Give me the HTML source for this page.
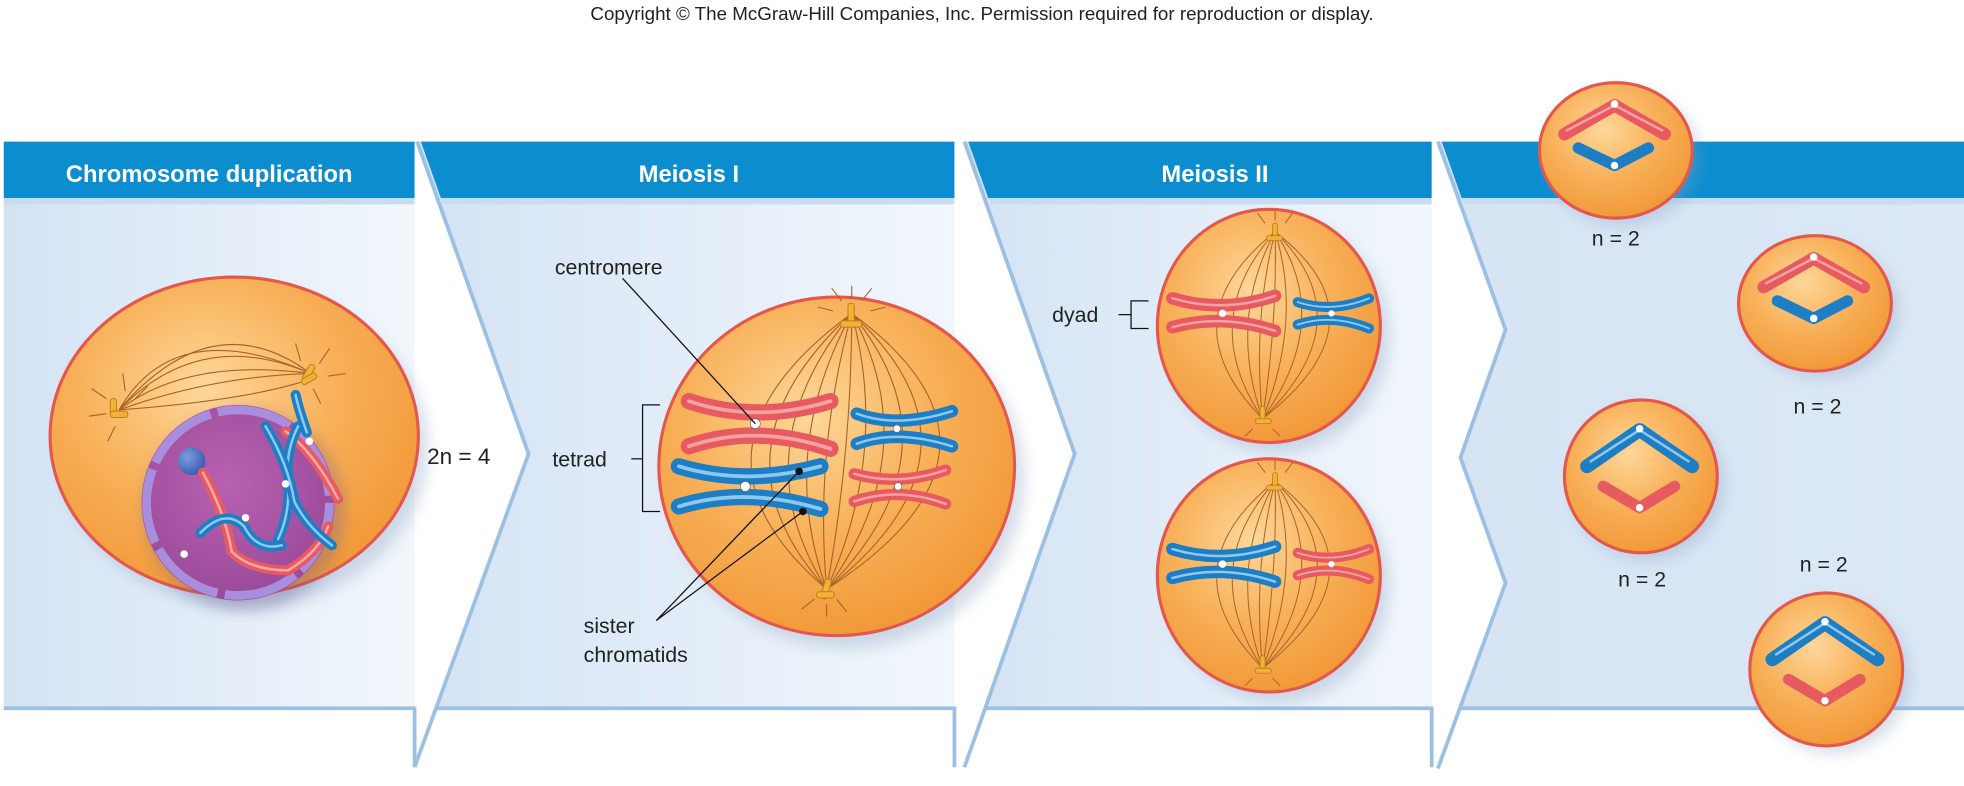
<!DOCTYPE html>
<html><head><meta charset="utf-8"><style>
html,body{margin:0;padding:0;background:#fff;}
svg{display:block;}
text{font-family:"Liberation Sans",sans-serif;}
</style></head><body>
<svg width="1964" height="786" viewBox="0 0 1568 627" preserveAspectRatio="none" xmlns="http://www.w3.org/2000/svg">
<defs>
<linearGradient id="pbg" x1="0" y1="0" x2="1" y2="0">
<stop offset="0" stop-color="#d3e3f4"/><stop offset="0.6" stop-color="#e6eff9"/><stop offset="1" stop-color="#f2f7fc"/>
</linearGradient>
<linearGradient id="pbg4" x1="0" y1="0" x2="1" y2="0">
<stop offset="0" stop-color="#d5e4f4"/><stop offset="1" stop-color="#dce8f5"/>
</linearGradient>
<radialGradient id="cell" cx="0.42" cy="0.35" r="0.65">
<stop offset="0" stop-color="#fdd79a"/><stop offset="0.55" stop-color="#f8b058"/><stop offset="1" stop-color="#f29a3a"/>
</radialGradient>
<radialGradient id="nuc" cx="0.45" cy="0.4" r="0.6">
<stop offset="0" stop-color="#b862b0"/><stop offset="1" stop-color="#9a4a9a"/>
</radialGradient>
<radialGradient id="nucl" cx="0.35" cy="0.35" r="0.7">
<stop offset="0" stop-color="#7b9de0"/><stop offset="1" stop-color="#3b5bb0"/>
</radialGradient>
<filter id="sh" x="-20%" y="-20%" width="140%" height="140%"><feGaussianBlur stdDeviation="6"/></filter>
</defs>

<text x="784" y="16" font-size="15" text-anchor="middle" fill="#222">Copyright © The McGraw-Hill Companies, Inc. Permission required for reproduction or display.</text>

<!-- panels -->
<rect x="3" y="113" width="328" height="452" fill="url(#pbg)"/>
<polygon points="333,113 762,113 762,565 348,565 422,362" fill="url(#pbg)"/>
<polygon points="770,113 1143,113 1143,565 787,565 858,362" fill="url(#pbg)"/>
<polygon points="1148,113 1568,113 1568,565 1165,565 1202,465 1166,365 1202,263" fill="url(#pbg4)"/>
<!-- headers -->
<rect x="3" y="113" width="328" height="45" fill="#0b8dd0"/>
<polygon points="336,113 762,113 762,158 352,158" fill="#0b8dd0"/>
<polygon points="773,113 1143,113 1143,158 789,158" fill="#0b8dd0"/>
<polygon points="1151,113 1568,113 1568,158 1167,158" fill="#0b8dd0"/>
<rect x="3" y="158" width="328" height="5" fill="#c9dcf0"/>
<polygon points="352,158 762,158 762,163 354,163" fill="#c9dcf0"/>
<polygon points="789,158 1143,158 1143,163 791,163" fill="#c9dcf0"/>
<polygon points="1167,158 1568,158 1568,163 1169,163" fill="#c9dcf0"/>
<!-- bottom lines & chevron lines -->
<g stroke="#9cc0e4" stroke-width="3" fill="none">
<polyline points="3,565 331,565 331,612"/>
<polyline points="348,565 762,565 762,612"/>
<polyline points="787,565 1143,565 1143,612"/>
<polyline points="1165,565 1568,565"/>
<polyline points="333,113 422,362 331,612"/>
<polyline points="770,113 858,362 770,612"/>
<polyline points="1148,113 1202,263 1166,365 1202,465 1148,613"/>
</g>
<text x="167" y="145" font-size="19" font-weight="bold" fill="#fff" text-anchor="middle">Chromosome duplication</text>
<text x="550" y="145" font-size="19" font-weight="bold" fill="#fff" text-anchor="middle">Meiosis I</text>
<text x="970" y="145" font-size="19" font-weight="bold" fill="#fff" text-anchor="middle">Meiosis II</text>

<!-- ===== Cell 1 ===== -->
<ellipse cx="195" cy="358" rx="147" ry="127" fill="#8aa0c0" opacity="0.35" filter="url(#sh)"/>
<ellipse cx="187" cy="348" rx="147" ry="127" fill="url(#cell)" stroke="#e4574c" stroke-width="2.5"/>
<g stroke="#a8642a" stroke-width="0.9" fill="none">
<path d="M95,327 Q160,260 248,298"/><path d="M95,327 Q170,240 248,298"/><path d="M95,327 Q150,285 248,298"/>
<path d="M95,327 Q170,300 248,298"/><path d="M95,327 Q140,250 248,298"/><path d="M95,327 Q190,320 240,305"/>
<path d="M85,318 l-12,-8 M85,330 l-14,2 M92,340 l-6,12 M100,312 l-2,-14 M108,318 l10,-10 M255,290 l8,-12 M262,300 l14,-2 M250,310 l6,12 M240,288 l-4,-14"/>
</g>
<g fill="#f1b238" stroke="#c47a18" stroke-width="0.8">
<rect x="88" y="318" width="5" height="14" rx="2"/><rect x="88" y="328" width="14" height="5" rx="2"/>
<rect x="244" y="290" width="5" height="14" rx="2" transform="rotate(30 246 297)"/><rect x="240" y="300" width="13" height="5" rx="2" transform="rotate(-30 246 302)"/>
</g>
<!-- nucleus -->
<ellipse cx="195" cy="407" rx="80" ry="80" fill="#6a5a90" opacity="0.35" filter="url(#sh)"/>
<ellipse cx="190" cy="401" rx="77" ry="78" fill="url(#nuc)"/>
<ellipse cx="190" cy="401" rx="73" ry="74" fill="none" stroke="#a98ee0" stroke-width="7" stroke-dasharray="60 6"/>
<circle cx="153" cy="368" r="11" fill="url(#nucl)"/>
<g fill="none" stroke-linecap="round">
<path d="M228,344 Q250,360 270,398" stroke="#e65a60" stroke-width="8"/><path d="M228,344 Q250,360 270,398" stroke="#f8a8a8" stroke-width="2"/>
<path d="M162,377 Q180,410 185,440 Q200,455 230,455 Q255,440 262,420" stroke="#e65a60" stroke-width="8"/>
<path d="M162,377 Q180,410 185,440 Q200,455 230,455 Q255,440 262,420" stroke="#f8a8a8" stroke-width="2"/>
<path d="M245,345 Q238,325 236,315 M238,340 Q228,360 230,380 Q232,410 222,430" stroke="#1e7ec4" stroke-width="8"/>
<path d="M245,345 Q238,325 236,315 M238,340 Q228,360 230,380 Q232,410 222,430" stroke="#8cc8f0" stroke-width="2"/>
<path d="M212,340 Q230,370 235,400 Q245,420 265,435" stroke="#1e7ec4" stroke-width="8"/>
<path d="M212,340 Q230,370 235,400 Q245,420 265,435" stroke="#8cc8f0" stroke-width="2"/>
<path d="M160,425 Q180,405 195,420 Q205,440 225,435" stroke="#1e7ec4" stroke-width="8"/>
<path d="M160,425 Q180,405 195,420 Q205,440 225,435" stroke="#8cc8f0" stroke-width="2"/>
</g>
<g fill="#fff"><circle cx="228" cy="386" r="3"/><circle cx="196" cy="413" r="3"/><circle cx="247" cy="352" r="3"/><circle cx="147" cy="442" r="3"/></g>

<text x="341" y="370" font-size="18" fill="#222">2n = 4</text>

<!-- ===== Cell 2 Meiosis I ===== -->
<ellipse cx="676" cy="382" rx="142" ry="135" fill="#8aa0c0" opacity="0.35" filter="url(#sh)"/>
<ellipse cx="668" cy="372" rx="142" ry="135" fill="url(#cell)" stroke="#e4574c" stroke-width="2.5"/>
<g stroke="#a8642a" stroke-width="0.9" fill="none">
<path d="M680,250 Q560,360 660,470"/><path d="M680,250 Q590,360 660,470"/><path d="M680,250 Q620,360 660,470"/>
<path d="M680,250 Q650,360 660,470"/><path d="M680,250 Q680,360 660,470"/><path d="M680,250 Q710,360 660,470"/>
<path d="M680,250 Q740,360 660,470"/><path d="M680,250 Q770,360 660,470"/><path d="M680,250 Q800,360 660,470"/>
<path d="M680,250 Q530,360 660,470"/><path d="M680,250 Q830,360 660,470"/>
<path d="M672,240 l-8,-10 M688,240 l8,-10 M680,238 l0,-10 M695,248 l12,-3 M665,248 l-12,-3 M650,478 l-10,8 M668,478 l8,10 M660,482 l0,10"/>
</g>
<g fill="#f1b238" stroke="#c47a18" stroke-width="0.8">
<rect x="677" y="242" width="5" height="16" rx="2"/><rect x="671" y="256" width="17" height="5" rx="2"/>
<rect x="657" y="462" width="5" height="16" rx="2" transform="rotate(15 660 470)"/><rect x="652" y="472" width="14" height="5" rx="2"/>
</g>
<g fill="none" stroke-linecap="round">
<path d="M550,320 Q603,338 663,320 M550,356 Q603,338 663,358" stroke="#e65a60" stroke-width="13"/>
<path d="M550,320 Q603,338 663,320 M550,356 Q603,338 663,358" stroke="#f6a2a2" stroke-width="3"/>
<path d="M684,330 Q716,342 760,328 M684,354 Q716,342 760,356" stroke="#1e7ec4" stroke-width="10"/>
<path d="M684,330 Q716,342 760,328 M684,354 Q716,342 760,356" stroke="#8cc8f0" stroke-width="2"/>
<path d="M542,372 Q595,388 655,372 M542,404 Q595,388 655,406" stroke="#1e7ec4" stroke-width="13"/>
<path d="M542,372 Q595,388 655,372 M542,404 Q595,388 655,406" stroke="#8cc8f0" stroke-width="3"/>
<path d="M682,378 Q717,388 755,375 M682,400 Q717,388 755,402" stroke="#e65a60" stroke-width="9"/>
<path d="M682,378 Q717,388 755,375 M682,400 Q717,388 755,402" stroke="#f6a2a2" stroke-width="2"/>
</g>
<g fill="#fff" stroke="#666" stroke-width="0.5"><circle cx="603" cy="338" r="4"/><circle cx="716" cy="342" r="3"/><circle cx="595" cy="388" r="4"/><circle cx="717" cy="388" r="3"/></g>
<g fill="#111"><circle cx="638" cy="376" r="3"/><circle cx="641" cy="408" r="3"/></g>
<g stroke="#111" stroke-width="1" fill="none">
<line x1="497" y1="222" x2="603" y2="338"/>
<line x1="524" y1="495" x2="638" y2="376"/><line x1="524" y1="495" x2="641" y2="408"/>
<polyline points="527,323 513,323 513,408 527,408"/><line x1="504" y1="366" x2="513" y2="366"/>
</g>
<text x="443" y="219" font-size="17" fill="#222">centromere</text>
<text x="441" y="372" font-size="17" fill="#222">tetrad</text>
<text x="466" y="505" font-size="17" fill="#222">sister</text>
<text x="466" y="528" font-size="17" fill="#222">chromatids</text>

<!-- ===== Meiosis II cells ===== -->
<g id="m2">
<ellipse cx="1020" cy="268" rx="89" ry="93" fill="#8aa0c0" opacity="0.35" filter="url(#sh)"/>
<ellipse cx="1013" cy="260" rx="89" ry="93" fill="url(#cell)" stroke="#e4574c" stroke-width="2.5"/>
<g stroke="#a8642a" stroke-width="0.8" fill="none">
<path d="M1018,185 Q930,255 1008,334"/><path d="M1018,185 Q955,255 1008,334"/><path d="M1018,185 Q980,255 1008,334"/>
<path d="M1018,185 Q1000,255 1008,334"/><path d="M1018,185 Q1020,255 1008,334"/><path d="M1018,185 Q1040,255 1008,334"/>
<path d="M1018,185 Q1065,255 1008,334"/><path d="M1018,185 Q1090,255 1008,334"/><path d="M1018,185 Q1110,255 1008,334"/>
<path d="M1010,178 l-6,-8 M1026,178 l6,-8 M1018,176 l0,-8 M1000,342 l-6,6 M1016,342 l6,6"/>
</g>
<g fill="#f1b238" stroke="#c47a18" stroke-width="0.7">
<rect x="1016" y="178" width="4" height="12" rx="2"/><rect x="1011" y="188" width="13" height="4" rx="2"/>
<rect x="1006" y="324" width="4" height="12" rx="2"/><rect x="1002" y="334" width="13" height="4" rx="2"/>
</g>
</g>
<use href="#m2" transform="translate(0,199)"/>
<g fill="none" stroke-linecap="round">
<path d="M936,238 Q976,250 1018,236 M936,261 Q976,250 1018,264" stroke="#e65a60" stroke-width="10"/>
<path d="M936,238 Q976,250 1018,236 M936,261 Q976,250 1018,264" stroke="#f6a2a2" stroke-width="2"/>
<path d="M1036,241 Q1063,250 1093,238 M1036,259 Q1063,250 1093,262" stroke="#1e7ec4" stroke-width="8"/>
<path d="M1036,241 Q1063,250 1093,238 M1036,259 Q1063,250 1093,262" stroke="#8cc8f0" stroke-width="1.5"/>
<path d="M936,438 Q976,450 1018,436 M936,461 Q976,450 1018,464" stroke="#1e7ec4" stroke-width="10"/>
<path d="M936,438 Q976,450 1018,436 M936,461 Q976,450 1018,464" stroke="#8cc8f0" stroke-width="2"/>
<path d="M1036,441 Q1063,450 1093,438 M1036,459 Q1063,450 1093,462" stroke="#e65a60" stroke-width="8"/>
<path d="M1036,441 Q1063,450 1093,438 M1036,459 Q1063,450 1093,462" stroke="#f6a2a2" stroke-width="1.5"/>
</g>
<g fill="#fff"><circle cx="976" cy="250" r="3"/><circle cx="1063" cy="250" r="2.5"/><circle cx="976" cy="450" r="3"/><circle cx="1063" cy="450" r="2.5"/></g>
<text x="840" y="257" font-size="17" fill="#222">dyad</text>
<g stroke="#111" stroke-width="1" fill="none"><line x1="893" y1="251" x2="903" y2="251"/><polyline points="917,240 903,240 903,262 917,262"/></g>

<!-- ===== Daughter cells ===== -->
<g id="dA">
<ellipse cx="1296" cy="126" rx="61" ry="54" fill="#8aa0c0" opacity="0.35" filter="url(#sh)"/>
<ellipse cx="1290" cy="120" rx="61" ry="54" fill="url(#cell)" stroke="#e4574c" stroke-width="2.5"/>
<g fill="none" stroke-linecap="round">
<path d="M1249,107 L1289,84 L1329,107" stroke="#e65a60" stroke-width="10" stroke-linejoin="round"/>
<path d="M1251,104 L1289,84 L1327,104" stroke="#f6a2a2" stroke-width="2"/>
<path d="M1260,118 L1289,132 L1316,118" stroke="#1e7ec4" stroke-width="9" stroke-linejoin="round"/>
</g>
<circle cx="1289" cy="83" r="3" fill="#fff"/><circle cx="1289" cy="132" r="3" fill="#fff"/>
</g>
<use href="#dA" transform="translate(159,122)"/>
<g id="dC">
<ellipse cx="1316" cy="386" rx="61" ry="61" fill="#8aa0c0" opacity="0.35" filter="url(#sh)"/>
<ellipse cx="1310" cy="380" rx="61" ry="61" fill="url(#cell)" stroke="#e4574c" stroke-width="2.5"/>
<g fill="none" stroke-linecap="round" stroke-linejoin="round">
<path d="M1267,372 L1309,343 L1351,372" stroke="#1e7ec4" stroke-width="11"/>
<path d="M1270,368 L1309,343 L1348,368" stroke="#8cc8f0" stroke-width="2"/>
<path d="M1280,388 L1309,405 L1337,388" stroke="#e65a60" stroke-width="9"/>
</g>
<circle cx="1309" cy="342" r="3" fill="#fff"/><circle cx="1309" cy="405" r="3" fill="#fff"/>
</g>
<use href="#dC" transform="translate(148,154)"/>
<text x="1290" y="196" font-size="17" fill="#222" text-anchor="middle">n = 2</text>
<text x="1451" y="330" font-size="17" fill="#222" text-anchor="middle">n = 2</text>
<text x="1311" y="468" font-size="17" fill="#222" text-anchor="middle">n = 2</text>
<text x="1456" y="456" font-size="17" fill="#222" text-anchor="middle">n = 2</text>
</svg>
</body></html>
